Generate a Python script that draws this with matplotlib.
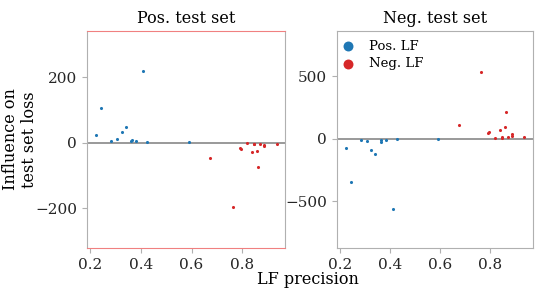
import matplotlib
matplotlib.use("Agg")
import matplotlib.pyplot as plt

# LF precision for each labeling function
pos_prec = [0.2225, 0.242, 0.281, 0.306, 0.324, 0.339, 0.361, 0.364, 0.382, 0.409, 0.425, 0.590]
neg_prec = [0.674, 0.762, 0.790, 0.795, 0.818, 0.838, 0.846, 0.848, 0.858, 0.862, 0.870, 0.885, 0.887, 0.936]

# influence on the positive test set
pos_lf_on_pos = [24, 105, 5, 10, 34, 47, 5, 9, 5, 218, 2, 1]
neg_lf_on_pos = [-46, -197, -15, -20, 0, -28, -5, -5, -26, -74, -5, -8, -10, -4]

# influence on the negative test set
pos_lf_on_neg = [-72, -348, -11, -21, -91, -118, -11, -24, -11, -559, -3, 0]
neg_lf_on_neg = [110, 537, 45, 56, 3, 72, 16, 5, 96, 214, 16, 35, 21, 13]

BLUE = "#1f77b4"
RED = "#d62728"
GRAY = "#b0b0b0"

plt.rcParams["font.family"] = ["DejaVu Serif"]
plt.rcParams["font.size"] = 11

fig = plt.figure(figsize=(5.4, 2.88), dpi=100)
ax1 = fig.add_axes([0.161, 0.139, 0.367, 0.753])
ax2 = fig.add_axes([0.624, 0.139, 0.363, 0.753])

panels = [
    (ax1, "Pos. test set", pos_lf_on_pos, neg_lf_on_pos, (-322, 341)),
    (ax2, "Neg. test set", pos_lf_on_neg, neg_lf_on_neg, (-872, 861)),
]
for ax, title, pos_vals, neg_vals, ylim in panels:
    ax.axhline(0, color="#888888", lw=1.2, zorder=1)
    ax.scatter(pos_prec, pos_vals, s=5, color=BLUE, label="Pos. LF", zorder=2, linewidths=0)
    ax.scatter(neg_prec, neg_vals, s=5, color=RED, label="Neg. LF", zorder=2, linewidths=0)
    ax.set_xlim(0.186, 0.970)
    ax.set_ylim(*ylim)
    ax.set_xticks([0.2, 0.4, 0.6, 0.8])
    ax.set_title(title, fontsize=11.5)
    for sp in ax.spines.values():
        sp.set_color(GRAY)
    ax.tick_params(color=GRAY, labelcolor="#262626", labelsize=11, length=3.5)

ax1.set_yticks([-200, 0, 200])
ax2.set_yticks([-500, 0, 500])
ax1.spines["top"].set_color("#f08080")
ax1.spines["bottom"].set_color("#f08080")

fig.text(0.037, 0.516, "Influence on\ntest set loss", rotation=90, ha="center", va="center",
         fontsize=11.5, linespacing=1.15)
ax2.legend(loc="upper left", bbox_to_anchor=(0.0, 0.985), frameon=False, markerscale=3.2,
           fontsize=9.5, handlelength=0.8, handletextpad=1.2, borderaxespad=0.1,
           borderpad=0.3, labelspacing=0.35)
fig.text(0.570, 0.028, "LF precision", ha="center", va="center", fontsize=11.5)

fig.savefig("out.png", dpi=100)
